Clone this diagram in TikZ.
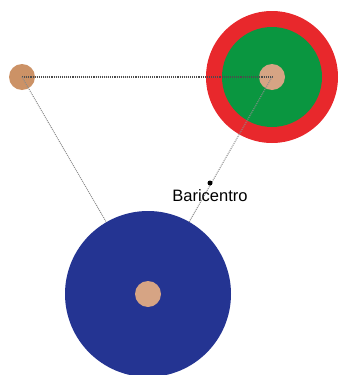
\documentclass[tikz,border=0pt]{standalone}
\usepackage{fontspec}
\setmainfont{Liberation Sans}
\usetikzlibrary{positioning}
\definecolor{ringred}{RGB}{232,40,44}
\definecolor{diskgreen}{RGB}{10,150,64}
\definecolor{diskblue}{RGB}{36,52,146}
\definecolor{coretan}{RGB}{214,164,132}
\definecolor{lefttan}{RGB}{204,146,102}
\def\Rring{132}
\def\Rdisk{100}
\def\Rblue{166}
\def\Rcore{26}

\begin{document}
\begin{tikzpicture}[
  x=1pt, y=-1pt,
  body/.style  = {circle, draw=none, inner sep=0pt},
  core/.style  = {body, fill=coretan, minimum size=\Rcore pt},
  hline/.style = {densely dotted, black!70, line width=1.1pt},
  link/.style  = {densely dotted, black!45, line width=1pt},
  dot/.style   = {circle, fill=black, inner sep=0pt, minimum size=5pt},
  lbl/.style   = {font=\fontsize{16.5}{18}\selectfont, text=black, inner sep=1pt},
]
\useasboundingbox (0,0) rectangle (340,375);

% ---------- upper right ring ----------
\node[body, fill=ringred, minimum size=\Rring pt]   (ring) at (272,77) {};
\node[body, fill=diskgreen, minimum size=\Rdisk pt] (disk) at (272,77) {};
\node[core] (c2) at (272,77) {};

% ---------- left mass ----------
\node[core, fill=lefttan] (c1) at (22,77) {};
\coordinate (m3) at (148,294);

% ---------- connecting lines ----------
\draw[hline] (c1.center) -- (c2.center);
\draw[link]  (c1.center) -- (m3);
\draw[link]  (c2.center) -- (m3);

% ---------- lower disk ----------
\node[body, fill=diskblue, minimum size=\Rblue pt] (blue) at (m3) {};
\node[core] (c3) at (m3) {};

% ---------- barycentre ----------
\node[dot] (bari) at (210,183) {};
\node[lbl, below=3pt of bari] (barilbl) {Baricentro};

\end{tikzpicture}
\end{document}
